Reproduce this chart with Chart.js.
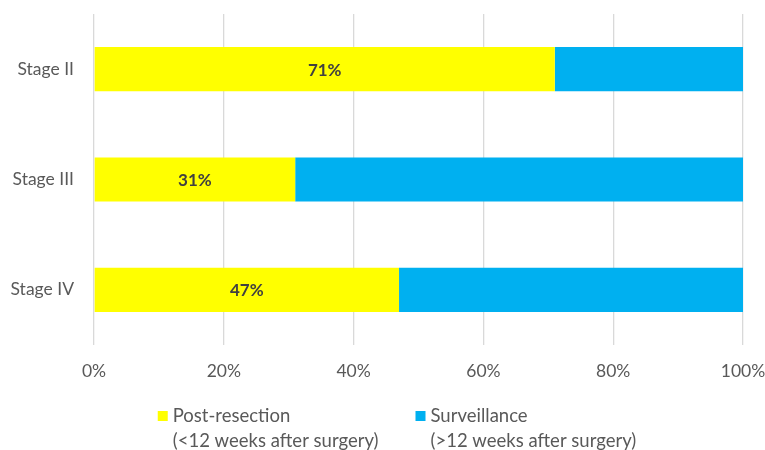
<!DOCTYPE html>
<html>
<head>
<meta charset="utf-8">
<script src="https://cdn.jsdelivr.net/npm/chart.js@4.4.0/dist/chart.umd.min.js"></script>
<style>
html,body{margin:0;padding:0;background:#fff;}
#wrap{width:765px;height:450px;position:relative;}
</style>
</head>
<body>
<div id="wrap"><canvas id="c"></canvas></div>
<script>
const categories = ["Stage II", "Stage III", "Stage IV"];
const postResection = [71, 31, 47];
const surveillance = [29, 69, 53];
const seriesLabels = [["Post-resection", "(<12 weeks after surgery)"], ["Surveillance", "(>12 weeks after surgery)"]];
const seriesColors = ["#FFFF00", "#00B0F0"];
const xTicks = [0, 20, 40, 60, 80, 100];

const FONT = "Lato, 'Open Sans', sans-serif";
const TEXT_SIZE = 17.5;
const LEGEND_SIZE = 18.5;

const labelPlugin = {
  id: 'barLabels',
  afterDatasetsDraw(chart) {
    const ctx = chart.ctx;
    const meta = chart.getDatasetMeta(0);
    ctx.save();
    ctx.font = "bold 17px " + FONT;
    ctx.fillStyle = "#404040";
    ctx.textAlign = "center";
    ctx.textBaseline = "middle";
    meta.data.forEach((bar, i) => {
      const p = bar.getProps(['x', 'y', 'base'], true);
      ctx.fillText(postResection[i] + "%", (p.x + p.base) / 2, p.y + 1);
    });
    ctx.restore();
  }
};

const legendPlugin = {
  id: 'multiLegend',
  afterDraw(chart) {
    const ctx = chart.ctx;
    ctx.save();
    ctx.font = LEGEND_SIZE + "px " + FONT;
    ctx.textBaseline = "middle";
    ctx.textAlign = "left";
    const box = 10, boxGap = 5, itemGap = 37, lineH = 25;
    const ds = chart.data.datasets;
    const widths = ds.map(d => box + boxGap + Math.max(...d.label.map(l => ctx.measureText(l).width)));
    const total = widths.reduce((a, b) => a + b, 0) + itemGap * (ds.length - 1);
    let x = 397 - total / 2;
    const y0 = 416;
    ds.forEach((d, i) => {
      ctx.fillStyle = d.backgroundColor;
      ctx.fillRect(x, y0 - 5, box, box);
      ctx.fillStyle = "#595959";
      d.label.forEach((l, j) => ctx.fillText(l, x + box + boxGap, y0 + j * lineH));
      x += widths[i] + itemGap;
    });
    ctx.restore();
  }
};

new Chart(document.getElementById('c'), {
  type: 'bar',
  data: {
    labels: categories,
    datasets: [
      { label: seriesLabels[0], data: postResection, backgroundColor: seriesColors[0], categoryPercentage: 0.8, barPercentage: 0.5 },
      { label: seriesLabels[1], data: surveillance, backgroundColor: seriesColors[1], categoryPercentage: 0.8, barPercentage: 0.5 }
    ]
  },
  options: {
    indexAxis: 'y',
    responsive: true,
    maintainAspectRatio: false,
    animation: false,
    layout: { padding: { top: 14, right: 0, left: 0, bottom: 65 } },
    scales: {
      x: {
        stacked: true, min: 0, max: 100,
        afterBuildTicks(scale) { scale.ticks = xTicks.map(v => ({ value: v })); },
        afterFit(scale) { scale.height = 40; scale.paddingRight = 22; scale.paddingLeft = 0; },
        grid: { color: "#D9D9D9", lineWidth: 1.3, drawTicks: false },
        border: { display: false },
        ticks: { color: "#595959", font: { size: TEXT_SIZE, family: FONT }, padding: 16, callback: v => v + "%" }
      },
      y: {
        stacked: true,
        afterFit(scale) { scale.width = 94; scale.paddingTop = 0; scale.paddingBottom = 0; },
        grid: { display: false, drawTicks: false },
        border: { display: false },
        ticks: { color: "#595959", font: { size: TEXT_SIZE, family: FONT }, padding: 20 }
      }
    },
    plugins: {
      legend: { display: false },
      tooltip: { enabled: false }
    }
  },
  plugins: [labelPlugin, legendPlugin]
});
</script>
</body>
</html>
